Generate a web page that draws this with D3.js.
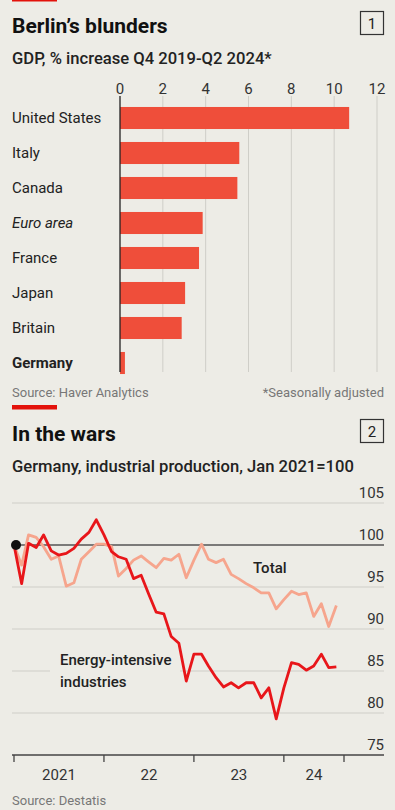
<!DOCTYPE html>
<html>
<head>
<meta charset="utf-8">
<script src="https://cdn.jsdelivr.net/npm/d3@7"></script>
<style>
  body { margin: 0; background: #edece6; }
  svg { display: block; font-family: Roboto, "Noto Sans", sans-serif; }
</style>
</head>
<body>
<div id="chart"></div>
<script>
// chart 1: GDP growth
const countries = ["United States", "Italy", "Canada", "Euro area", "France", "Japan", "Britain", "Germany"];
const gdpGrowth = [10.7, 5.57, 5.48, 3.86, 3.69, 3.04, 2.88, 0.23];
const gdpTicks = [0, 2, 4, 6, 8, 10, 12];

// chart 2: industrial production, monthly from Jan 2021
const startMonth = new Date(2021, 0, 1);
const energyIntensive = [100, 95.4, 100.2, 99.7, 101.2, 99.3, 98.8, 99.0, 99.6, 100.7, 101.5, 103.0,
  101.2, 99.2, 98.6, 98.3, 96.0, 96.4, 94.2, 92.0, 91.8, 89.1, 88.3, 83.8,
  87.0, 87.0, 85.6, 84.2, 83.1, 83.6, 83.0, 83.6, 83.6, 81.8, 83.0, 79.3,
  83.0, 86.0, 85.8, 85.1, 85.6, 87.0, 85.4, 85.5];
const total = [100, 97.6, 101.2, 100.9, 99.8, 98.3, 98.7, 95.1, 95.5, 98.3, 99.2, 100.1,
  100.1, 99.8, 96.3, 97.2, 98.2, 98.7, 98.0, 97.3, 98.4, 98.2, 98.9, 96.1,
  98.2, 100.1, 98.3, 97.9, 98.3, 96.5, 96.0, 95.4, 94.9, 94.3, 94.3, 92.4,
  93.5, 94.5, 94.1, 94.3, 91.5, 93.0, 90.3, 92.8];
const ipTicks = [75, 80, 85, 90, 95, 100, 105];
const yearLabels = ["2021", "22", "23", "24"];

const W = 395, H = 810;
const bg = "#edece6";
const svg = d3.select("#chart").append("svg").attr("width", W).attr("height", H);
svg.append("rect").attr("width", W).attr("height", H).attr("fill", bg);

function header(top, title, subtitle, num) {
  svg.append("rect").attr("x", 12).attr("y", top - 36).attr("width", 45).attr("height", 4.5).attr("fill", "#e3120b");
  svg.append("text").attr("x", 12).attr("y", top).attr("font-size", 21).attr("font-weight", 700)
    .attr("fill", "#111").text(title);
  svg.append("rect").attr("x", 360.5).attr("y", top - 21.5).attr("width", 23).attr("height", 23)
    .attr("fill", "none").attr("stroke", "#333").attr("stroke-width", 1.2);
  svg.append("text").attr("x", 372).attr("y", top - 4).attr("text-anchor", "middle")
    .attr("font-size", 15).attr("fill", "#222").text(num);
  svg.append("text").attr("x", 12).attr("y", top + 31).attr("font-size", 16.6).attr("font-weight", 500)
    .attr("fill", "#222").text(subtitle);
}

// ---------- chart 1 ----------
header(33, "Berlin\u2019s blunders", "GDP, % increase Q4 2019-Q2 2024*", "1");

const x1 = d3.scaleLinear().domain([0, 12]).range([120, 377]);
const y1 = d3.scaleBand().domain(countries).range([100.5, 380.5]).paddingInner(0.37).paddingOuter(0.185);

const g1 = svg.append("g");
g1.selectAll(".grid").data(gdpTicks.slice(1)).join("line")
  .attr("x1", d => x1(d)).attr("x2", d => x1(d))
  .attr("y1", 96).attr("y2", 372)
  .attr("stroke", "#cfcec8").attr("stroke-width", 1);
g1.selectAll(".tick").data(gdpTicks).join("text")
  .attr("x", d => x1(d)).attr("y", 94).attr("text-anchor", "middle")
  .attr("font-size", 15).attr("fill", "#333").text(d => d);

g1.selectAll(".bar").data(countries).join("rect")
  .attr("x", x1(0)).attr("y", d => y1(d))
  .attr("width", (d, i) => x1(gdpGrowth[i]) - x1(0))
  .attr("height", y1.bandwidth())
  .attr("fill", "#ef4e3a");

g1.append("line").attr("x1", x1(0)).attr("x2", x1(0)).attr("y1", 96).attr("y2", 372)
  .attr("stroke", "#222").attr("stroke-width", 1.3);

g1.selectAll(".lab").data(countries).join("text")
  .attr("x", 12).attr("y", d => y1(d) + y1.bandwidth() / 2 + 5)
  .attr("font-size", 15).attr("fill", "#222")
  .attr("font-style", d => d === "Euro area" ? "italic" : "normal")
  .attr("font-weight", d => d === "Germany" ? 700 : 400)
  .text(d => d);

svg.append("text").attr("x", 12).attr("y", 397).attr("font-size", 13).attr("fill", "#777")
  .text("Source: Haver Analytics");
svg.append("text").attr("x", 384).attr("y", 397).attr("font-size", 13).attr("fill", "#777")
  .attr("text-anchor", "end").text("*Seasonally adjusted");

// ---------- chart 2 ----------
header(441, "In the wars", "Germany, industrial production, Jan 2021=100", "2");

const endMonth = new Date(2024, 8, 1);
const x2 = d3.scaleTime().domain([startMonth, endMonth]).range([14, 344]);
const y2 = d3.scaleLinear().domain([75, 105]).range([755, 503]);
const months = energyIntensive.map((d, i) => d3.timeMonth.offset(startMonth, i));

const g2 = svg.append("g");
g2.selectAll(".grid").data(ipTicks.filter(d => d !== 75 && d !== 100)).join("line")
  .attr("x1", 12).attr("x2", 384).attr("y1", d => y2(d)).attr("y2", d => y2(d))
  .attr("stroke", "#cfcec8").attr("stroke-width", 1);
g2.selectAll(".tick").data(ipTicks).join("text")
  .attr("x", 384).attr("y", d => y2(d) - 5).attr("text-anchor", "end")
  .attr("font-size", 15).attr("fill", "#333").text(d => d);

// label box hides the gridline behind the series label
g2.append("rect").attr("x", 50).attr("y", 650).attr("width", 130).attr("height", 42).attr("fill", bg);

const line = d3.line().x((d, i) => x2(months[i])).y(d => y2(d));

g2.append("line").attr("x1", 12).attr("x2", 384).attr("y1", y2(100)).attr("y2", y2(100))
  .attr("stroke", "#555").attr("stroke-width", 1.3);

g2.append("path").datum(total).attr("d", line).attr("fill", "none")
  .attr("stroke", "#f6a58d").attr("stroke-width", 2.8).attr("stroke-linejoin", "round");
g2.append("path").datum(energyIntensive).attr("d", line).attr("fill", "none")
  .attr("stroke", "#e8161a").attr("stroke-width", 2.8).attr("stroke-linejoin", "round");

g2.append("circle").attr("cx", x2(startMonth) + 2).attr("cy", y2(100)).attr("r", 5).attr("fill", "#111");

// x axis
const axisTicks = [new Date(2021, 0, 1), new Date(2022, 0, 1), new Date(2023, 0, 1), new Date(2024, 0, 1), endMonth];
g2.append("line").attr("x1", 12).attr("x2", 384).attr("y1", y2(75)).attr("y2", y2(75))
  .attr("stroke", "#444").attr("stroke-width", 1.5);
g2.selectAll(".xt").data(axisTicks).join("line")
  .attr("x1", d => x2(d)).attr("x2", d => x2(d)).attr("y1", y2(75)).attr("y2", y2(75) + 7)
  .attr("stroke", "#444").attr("stroke-width", 1.3);
g2.selectAll(".xl").data(yearLabels).join("text")
  .attr("x", (d, i) => (x2(axisTicks[i]) + x2(axisTicks[i + 1])) / 2)
  .attr("y", 780).attr("text-anchor", "middle").attr("font-size", 15).attr("fill", "#333")
  .text(d => d);

g2.append("text").attr("x", 253).attr("y", 573).attr("font-size", 15).attr("font-weight", 500)
  .attr("fill", "#222").text("Total");
const lab = g2.append("text").attr("x", 60).attr("y", 665).attr("font-size", 15).attr("font-weight", 500)
  .attr("fill", "#222");
lab.append("tspan").attr("x", 60).text("Energy-intensive");
lab.append("tspan").attr("x", 60).attr("dy", 22).text("industries");

svg.append("text").attr("x", 12).attr("y", 805).attr("font-size", 13).attr("fill", "#777")
  .text("Source: Destatis");
</script>
</body>
</html>
